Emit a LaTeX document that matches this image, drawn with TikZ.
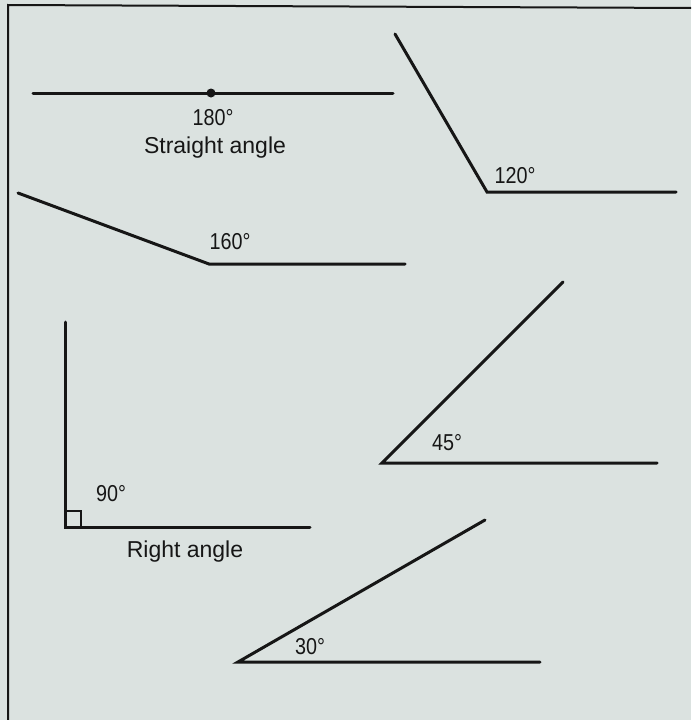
\documentclass[tikz,border=0pt]{standalone}
\usepackage{fontspec}
\setmainfont{Liberation Sans}
\definecolor{paper}{RGB}{219,226,224}
\definecolor{ink}{RGB}{22,22,22}
\begin{document}
\begin{tikzpicture}[x=1pt,y=-1pt,
  ray/.style={draw=ink,line width=3pt,line cap=round,line join=miter},
  lbl/.style={text=ink,inner sep=0pt,font=\fontsize{23}{26}\selectfont},
  num/.style={lbl,xscale=0.86}]
\fill[paper] (0,0) rectangle (691,720);
\useasboundingbox (0,0) rectangle (691,720);
% frame
\coordinate (fTL) at (8,5);
\coordinate (fTR) at (691,8);
\coordinate (fBL) at (8,720);
\draw[ink,line width=2pt] (fBL) -- (fTL) -- (fTR);
% straight angle
\coordinate (sA) at (33,93);
\coordinate (sO) at (211,93);
\coordinate (sB) at (393,93);
\draw[ray] (sA) -- (sB);
\fill[ink] (sO) circle (4.5);
\node[num] (l180) at (213,118) {180°};
\node[lbl] (lstr) at (215,148) {Straight angle};
% 120
\coordinate (aA) at (395,34);
\coordinate (aO) at (487,192);
\coordinate (aB) at (676,192);
\draw[ray] (aA) -- (aO) -- (aB);
\node[num] (l120) at (515,176) {120°};
% 160
\coordinate (bA) at (18,193);
\coordinate (bO) at (209,264);
\coordinate (bB) at (405,264);
\draw[ray] (bA) -- (bO) -- (bB);
\node[num] (l160) at (230,242) {160°};
% 45
\coordinate (cA) at (563,282);
\coordinate (cO) at (382,463);
\coordinate (cB) at (657,463);
\draw[ray] (cA) -- (cO) -- (cB);
\node[num] (l45) at (447,443) {45°};
% 90
\coordinate (dA) at (65,322);
\coordinate (dO) at (65,527);
\coordinate (dB) at (310,527);
\draw[ray] (dA) -- (dO) -- (dB);
\draw[ink,line width=2pt] (65,511) -- (81,511) -- (81,527);
\node[num] (l90) at (111,494) {90°};
\node[lbl] (lright) at (185,552) {Right angle};
% 30
\coordinate (eA) at (485,520);
\coordinate (eO) at (238,662);
\coordinate (eB) at (540,662);
\draw[ray] (eA) -- (eO) -- (eB);
\node[num] (l30) at (310,647) {30°};
\end{tikzpicture}
\end{document}
